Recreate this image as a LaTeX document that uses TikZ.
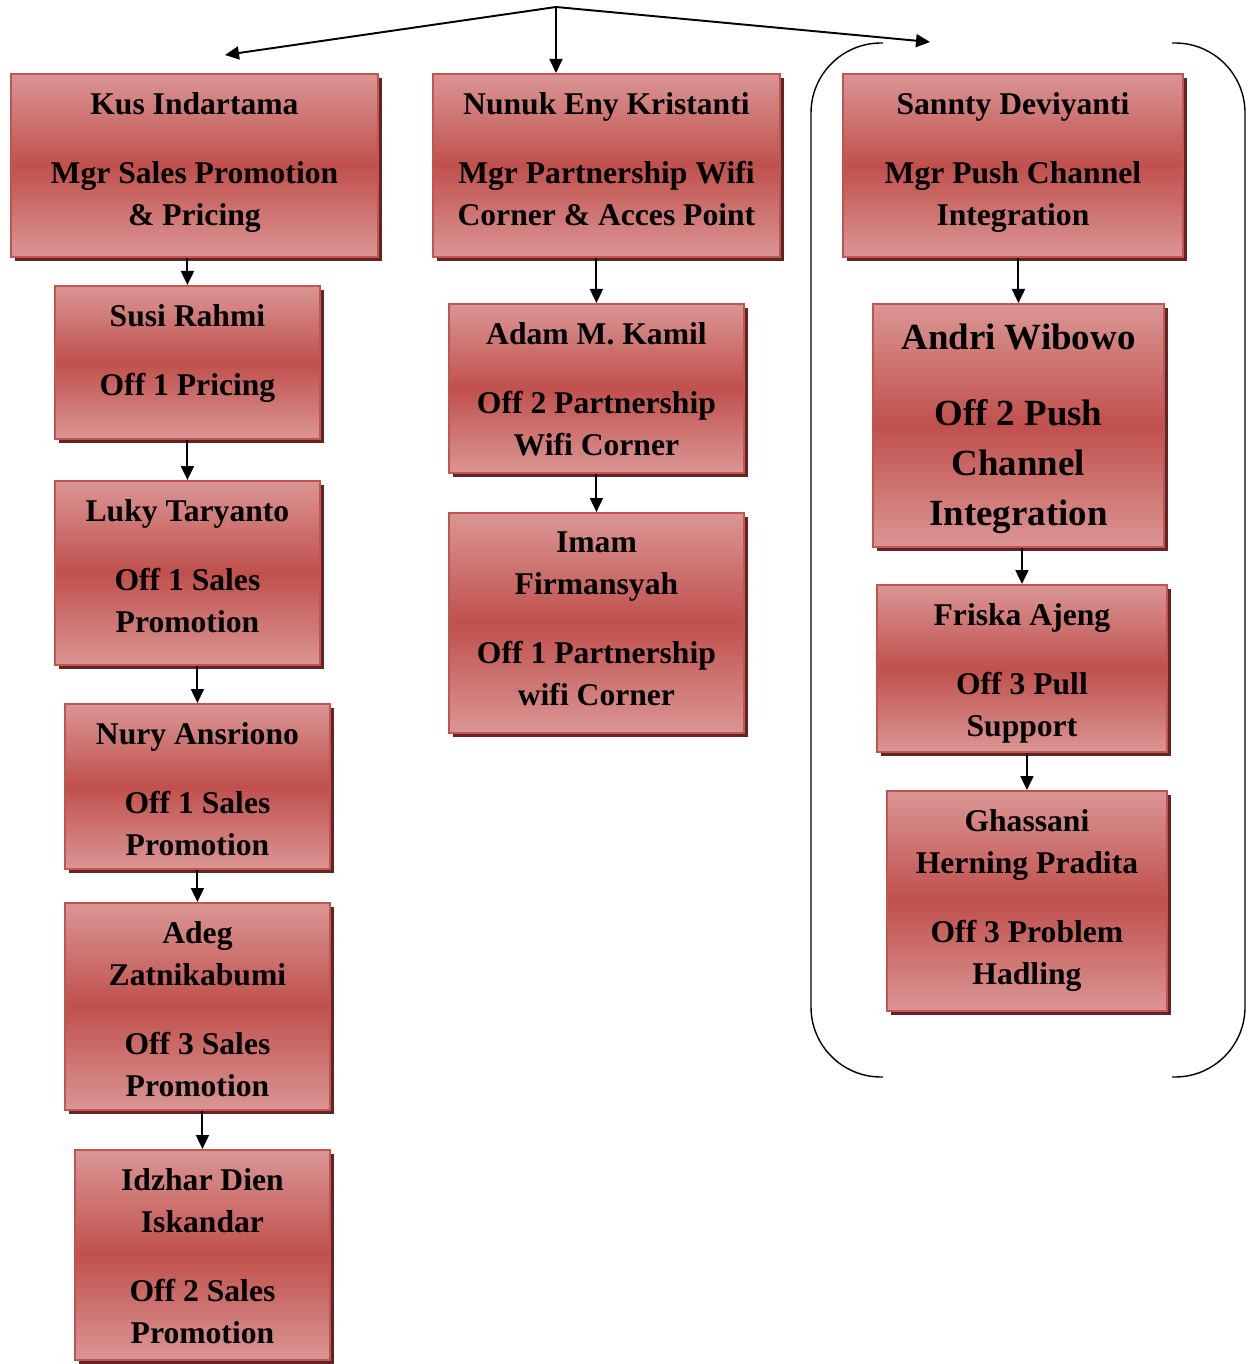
\documentclass[tikz,border=0pt]{standalone}
\usepackage{fontspec}
\setmainfont{Liberation Serif}
\usetikzlibrary{positioning,shadows,arrows.meta}
\definecolor{boxlight}{RGB}{218,150,148}
\definecolor{boxmid}{RGB}{192,80,77}
\definecolor{boxedge}{RGB}{196,84,80}
\definecolor{boxshadow}{RGB}{99,37,35}

\begin{document}
\begin{tikzpicture}[
      x=0.02cm, y=-0.02cm,
      orgbox/.style={draw=boxedge, line width=1.1pt, anchor=north west,
                     top color=boxlight, bottom color=boxlight, middle color=boxmid,
                     drop shadow={shadow xshift=0.08cm, shadow yshift=-0.08cm,
                                  fill=boxshadow, opacity=1},
                     inner sep=0pt},
      orgtxt/.style={align=center, inner sep=0pt,
                     font=\fontsize{18pt}{0.84cm}\selectfont\bfseries},
      bigtxt/.style={align=center, inner sep=0pt,
                     font=\fontsize{21pt}{1cm}\selectfont\bfseries},
      arr/.style={-{Triangle[length=0.28cm, width=0.26cm]}, line width=1.1pt},
    ]
    \useasboundingbox (0,0) rectangle (1255,1364);
    %% left column
    \node[orgbox, minimum width=7.34cm, minimum height=3.66cm] (kus) at (10,73) {};
    \node[orgtxt, below=0.38cm of kus.north] (kus-t)
      {Kus Indartama\\[0.54cm]Mgr Sales Promotion\\\& Pricing};
    \node[orgbox, minimum width=5.3cm, minimum height=3.06cm] (susi) at (54,285) {};
    \node[orgtxt, below=0.38cm of susi.north] (susi-t)
      {Susi Rahmi\\[0.54cm]Off 1 Pricing};
    \node[orgbox, minimum width=5.3cm, minimum height=3.68cm] (luky) at (54,480) {};
    \node[orgtxt, below=0.38cm of luky.north] (luky-t)
      {Luky Taryanto\\[0.54cm]Off 1 Sales\\Promotion};
    \node[orgbox, minimum width=5.3cm, minimum height=3.3cm] (nury) at (64,703) {};
    \node[orgtxt, below=0.38cm of nury.north] (nury-t)
      {Nury Ansriono\\[0.54cm]Off 1 Sales\\Promotion};
    \node[orgbox, minimum width=5.3cm, minimum height=4.14cm] (adeg) at (64,902) {};
    \node[orgtxt, below=0.38cm of adeg.north] (adeg-t)
      {Adeg\\Zatnikabumi\\[0.54cm]Off 3 Sales\\Promotion};
    \node[orgbox, minimum width=5.1cm, minimum height=4.2cm] (idzhar) at (74,1149) {};
    \node[orgtxt, below=0.38cm of idzhar.north] (idzhar-t)
      {Idzhar Dien\\Iskandar\\[0.54cm]Off 2 Sales\\Promotion};
    %% middle column
    \node[orgbox, minimum width=6.94cm, minimum height=3.66cm] (nunuk) at (432,73) {};
    \node[orgtxt, below=0.38cm of nunuk.north] (nunuk-t)
      {Nunuk Eny Kristanti\\[0.54cm]Mgr Partnership Wifi\\Corner \& Acces Point};
    \node[orgbox, minimum width=5.9cm, minimum height=3.38cm] (adam) at (448,303) {};
    \node[orgtxt, below=0.38cm of adam.north] (adam-t)
      {Adam M. Kamil\\[0.54cm]Off 2 Partnership\\Wifi Corner};
    \node[orgbox, minimum width=5.9cm, minimum height=4.4cm] (imam) at (448,512) {};
    \node[orgtxt, below=0.38cm of imam.north] (imam-t)
      {Imam\\Firmansyah\\[0.54cm]Off 1 Partnership\\wifi Corner};
    %% right column
    \node[orgbox, minimum width=6.8cm, minimum height=3.66cm] (sannty) at (842,73) {};
    \node[orgtxt, below=0.38cm of sannty.north] (sannty-t)
      {Sannty Deviyanti\\[0.54cm]Mgr Push Channel\\Integration};
    \node[orgbox, minimum width=5.82cm, minimum height=4.86cm] (andri) at (872,303) {};
    \node[bigtxt, below=0.42cm of andri.north] (andri-t)
      {Andri Wibowo\\[0.52cm]Off 2 Push\\Channel\\Integration};
    \node[orgbox, minimum width=5.8cm, minimum height=3.34cm] (friska) at (876,584) {};
    \node[orgtxt, below=0.38cm of friska.north] (friska-t)
      {Friska Ajeng\\[0.54cm]Off 3 Pull\\Support};
    \node[orgbox, minimum width=5.6cm, minimum height=4.4cm] (ghassani) at (886,790) {};
    \node[orgtxt, below=0.38cm of ghassani.north] (ghassani-t)
      {Ghassani\\Herning Pradita\\[0.54cm]Off 3 Problem\\Hadling};
    %% brackets round the right column
    \draw[line width=0.8pt, rounded corners=1.4cm]
      (883,43) -- (811,43) -- (811,1077) -- (883,1077);
    \draw[line width=0.8pt, rounded corners=1.4cm]
      (1172,43) -- (1245,43) -- (1245,1077) -- (1172,1077);
    %% top arrows
    \coordinate (top) at (556,7);
    \coordinate (leftend) at (225,55);
    \coordinate (rightend) at (930,42);
    \draw[arr] (top) -- (leftend);
    \draw[arr] (top) -- (top |- nunuk.north);
    \draw[arr] (top) -- (rightend);
    %% connectors
    \draw[arr] (kus.south -| susi.north) -- (susi.north);
    \draw[arr] (susi.south) -- (luky.north);
    \draw[arr] (luky.south -| nury.north) -- (nury.north);
    \draw[arr] (nury.south) -- (adeg.north);
    \draw[arr] (adeg.south -| idzhar.north) -- (idzhar.north);
    \draw[arr] (nunuk.south -| adam.north) -- (adam.north);
    \draw[arr] (adam.south) -- (imam.north);
    \draw[arr] (sannty.south -| andri.north) -- (andri.north);
    \draw[arr] (andri.south -| friska.north) -- (friska.north);
    \draw[arr] (friska.south -| ghassani.north) -- (ghassani.north);
    \end{tikzpicture}
\end{document}
